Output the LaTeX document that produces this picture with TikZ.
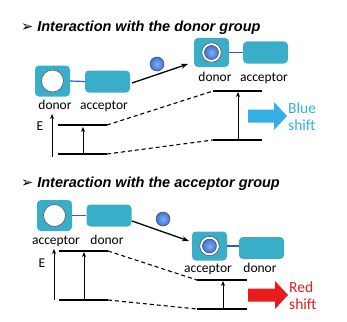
\documentclass[tikz,border=0pt]{standalone}
\usepackage{fontspec}
\setmainfont{Carlito}
\newfontfamily\titlefont{Liberation Sans}
\newfontfamily\symfont{DejaVu Sans}
\usetikzlibrary{arrows.meta}
\definecolor{tealbox}{RGB}{58,174,200}
\definecolor{linkblue}{RGB}{40,95,195}
\definecolor{ballblue}{RGB}{60,115,215}
\definecolor{ballhi}{RGB}{130,175,240}
\definecolor{skyb}{RGB}{52,176,228}
\definecolor{redshift}{RGB}{232,28,28}
\tikzset{
  sqbox/.style={fill=tealbox, rounded corners=4pt, inner sep=0pt, minimum width=35pt, minimum height=31pt},
  recbox/.style={fill=tealbox, rounded corners=4pt, inner sep=0pt, minimum width=45pt, minimum height=22pt},
  hole/.style={circle, fill=white, draw=black!65, line width=0.6pt, minimum size=22pt, inner sep=0pt},
  ring/.style={circle, fill=white, draw=black!65, line width=0.6pt, minimum size=19.5pt, inner sep=0pt},
  guest/.style={circle, inner color=ballhi, outer color=ballblue, draw=black!70, line width=0.5pt, minimum size=14pt, inner sep=0pt},
  link/.style={draw=linkblue, line width=1.2pt},
  lab/.style={anchor=base, font=\fontsize{13.5}{13.5}\selectfont, inner sep=0pt},
  ttl/.style={anchor=west, inner sep=0pt, font=\fontsize{14.5}{15}\selectfont\titlefont\bfseries\itshape},
  lvl/.style={line width=1.1pt},
  dsh/.style={line width=1.1pt, dash pattern=on 4pt off 3pt},
  up/.style={line width=1pt, -{Stealth[length=5pt,width=4pt]}},
  react/.style={line width=1.3pt, -{Stealth[length=7pt,width=5pt]}},
  shiftlab/.style={anchor=west, align=left, inner sep=0pt, font=\fontsize{15.5}{17}\selectfont},
}
\begin{document}
\begin{tikzpicture}[x=1pt,y=-1pt]
\useasboundingbox (0,0) rectangle (347,321);

% ================= TOP: donor group =================
\node[ttl] (t1) at (21,28) {{\symfont\mdseries\upshape ➢}\hspace{4pt}Interaction with the donor group};

\node[sqbox] (d1) at (52.5,81) {};
\node[recbox] (a1) at (107.5,81.5) {};
\draw[link] (d1.east) -- (a1.west);
\node[hole] (h1) at (d1.center) {};
\node[lab] (ld1) at (55,109.5) {donor};
\node[lab] (la1) at (104,109.5) {acceptor};

\node[guest] (g1) at (157,64) {};
\coordinate (r1s) at (132,83);
\coordinate (r1e) at (188,64);
\draw[react] (r1s) -- (r1e);

\node[sqbox, minimum height=29pt] (d2) at (211.5,52.5) {};
\node[recbox] (a2) at (265.5,52.5) {};
\draw[link] (d2.east) -- (a2.west);
\node[ring] (h2) at (d2.center) {};
\node[guest] (g2) at (h2.center) {};
\node[lab] (ld2) at (215,81.5) {donor};
\node[lab] (la2) at (264,81.5) {acceptor};

% energy diagram
\node[lab] (E1) at (40,130) {E};
\coordinate (e1b) at (52,157);
\coordinate (e1t) at (52,114);
\draw[up] (e1b) -- (e1t);
\coordinate (L1ua) at (58,125);  \coordinate (L1ub) at (107,125);
\coordinate (L1la) at (58,154);  \coordinate (L1lb) at (107,154);
\coordinate (R1ua) at (213,91);  \coordinate (R1ub) at (262,91);
\coordinate (R1la) at (213,140); \coordinate (R1lb) at (262,140);
\draw[lvl] (L1ua) -- (L1ub);
\draw[lvl] (L1la) -- (L1lb);
\draw[lvl] (R1ua) -- (R1ub);
\draw[lvl] (R1la) -- (R1lb);
\draw[dsh] (L1ub) -- (R1ua);
\draw[dsh] (L1lb) -- (R1la);
\coordinate (x1b) at (83,154); \coordinate (x1t) at (83,127);
\draw[up] (x1b) -- (x1t);
\coordinate (x2b) at (238,140); \coordinate (x2t) at (238,92);
\draw[up] (x2b) -- (x2t);

\fill[skyb] (248,109.5) -- (274,109.5) -- (274,102) -- (287,116) -- (274,130) -- (274,122.5) -- (248,122.5) -- cycle;
\node[shiftlab, text=skyb] (bs) at (288,116.5) {Blue\\shift};

% ================= BOTTOM: acceptor group =================
\node[ttl] (t2) at (21,184) {{\symfont\mdseries\upshape ➢}\hspace{4pt}Interaction with the acceptor group};

\node[sqbox] (a3) at (54.5,215.5) {};
\node[recbox] (d3) at (109,215.5) {};
\draw[link] (a3.east) -- (d3.west);
\node[hole] (h3) at (a3.center) {};
\node[lab] (la3) at (56,244.5) {acceptor};
\node[lab] (ld3) at (107,244.5) {donor};

\node[guest] (g3) at (163,219) {};
\coordinate (r2s) at (132,221);
\coordinate (r2e) at (189,241);
\draw[react] (r2s) -- (r2e);

\node[sqbox, minimum height=29pt] (a4) at (209.5,246) {};
\node[recbox] (d4) at (261.5,248) {};
\draw[link] (a4.east) -- (d4.west |- a4.east);
\node[ring] (h4) at (a4.center) {};
\node[guest] (g4) at (h4.center) {};
\node[lab] (la4) at (208,272.5) {acceptor};
\node[lab] (ld4) at (260,272.5) {donor};

\node[lab] (E2) at (42,267.5) {E};
\coordinate (e2b) at (54,300);
\coordinate (e2t) at (54,249);
\draw[up] (e2b) -- (e2t);
\coordinate (L2ua) at (59,251);  \coordinate (L2ub) at (108,251);
\coordinate (L2la) at (59,300);  \coordinate (L2lb) at (108,300);
\coordinate (R2ua) at (197,280); \coordinate (R2ub) at (247,280);
\coordinate (R2la) at (197,309); \coordinate (R2lb) at (247,309);
\draw[lvl] (L2ua) -- (L2ub);
\draw[lvl] (L2la) -- (L2lb);
\draw[lvl] (R2ua) -- (R2ub);
\draw[lvl] (R2la) -- (R2lb);
\draw[dsh] (L2ub) -- (R2ua);
\draw[dsh] (L2lb) -- (R2la);
\coordinate (x3b) at (84,300); \coordinate (x3t) at (84,252);
\draw[up] (x3b) -- (x3t);
\coordinate (x4b) at (223,309); \coordinate (x4t) at (223,281);
\draw[up] (x4b) -- (x4t);

\fill[redshift] (248,288.5) -- (275,288.5) -- (275,281) -- (288,295) -- (275,309) -- (275,301.5) -- (248,301.5) -- cycle;
\node[shiftlab, text=redshift] (rs) at (289,295.5) {Red\\shift};
\end{tikzpicture}
\end{document}
